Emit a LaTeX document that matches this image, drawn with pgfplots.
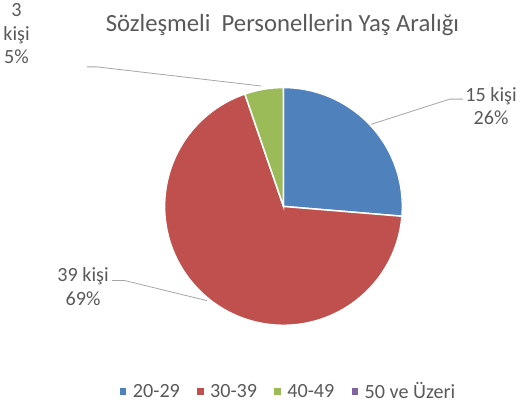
\documentclass[border=0pt]{standalone}
\usepackage{fontspec}
\setmainfont{Carlito}
\usepackage{pgfplots}
\pgfplotsset{compat=1.18}
\definecolor{cBlue}{HTML}{4F81BD}
\definecolor{cRed}{HTML}{C0504D}
\definecolor{cGreen}{HTML}{9BBB59}
\definecolor{cPurple}{HTML}{8064A2}
\definecolor{txt}{HTML}{595959}
\definecolor{lead}{HTML}{A6A6A6}
\begin{document}
\begin{tikzpicture}
% data
\def\va{15}\def\vb{39}\def\vc{3}\def\vd{0}
\pgfmathsetmacro\tot{\va+\vb+\vc+\vd}
\pgfmathsetmacro\aA{90}
\pgfmathsetmacro\aB{\aA-360*\va/\tot}
\pgfmathsetmacro\aC{\aB-360*\vb/\tot}
\pgfmathsetmacro\aD{\aC-360*\vc/\tot}
\def\cx{285}\def\cy{194.5}\def\R{118}
\begin{axis}[
  width=520pt, height=403pt, scale only axis,
  xmin=0, xmax=520, ymin=0, ymax=403,
  hide axis, clip=false,
  legend style={draw=none, fill=none, at={(axis cs:289,11)}, anchor=center,
    legend columns=-1, font=\fontsize{20}{24}\selectfont\color{txt},
    nodes={inner xsep=0pt},
    /tikz/every odd column/.append style={column sep=0pt},
    /tikz/every even column/.append style={column sep=17pt},
    legend cell align=left},
  legend image code/.code={\fill[#1] (0pt,-2.8pt) rectangle (5.6pt,2.8pt);},
]
\addlegendimage{cBlue}\addlegendentry{\hspace{7pt}20-29}
\addlegendimage{cRed}\addlegendentry{\hspace{7pt}30-39}
\addlegendimage{cGreen}\addlegendentry{\hspace{7pt}40-49}
\addlegendimage{cPurple}\addlegendentry{\hspace{7pt}50 ve Üzeri}
% slices
\fill[cBlue, draw=white, line width=1.5pt] (axis cs:\cx,\cy) -- ++(\aA:\R pt) arc[start angle=\aA, end angle=\aB, radius=\R pt] -- cycle;
\fill[cRed, draw=white, line width=1.5pt] (axis cs:\cx,\cy) -- ++(\aB:\R pt) arc[start angle=\aB, end angle=\aC, radius=\R pt] -- cycle;
\fill[cGreen, draw=white, line width=1.5pt] (axis cs:\cx,\cy) -- ++(\aC:\R pt) arc[start angle=\aC, end angle=\aD, radius=\R pt] -- cycle;
% leader lines
\draw[lead, line width=0.8pt] (axis cs:372,276) -- (axis cs:450,301) -- (axis cs:463,301);
\draw[lead, line width=0.8pt] (axis cs:115,121) -- (axis cs:127,121) -- (axis cs:209,101);
\draw[lead, line width=0.8pt] (axis cs:90,333) -- (axis cs:100,333) -- (axis cs:263,314);
% labels
\node[font=\fontsize{20}{23.5}\selectfont, text=txt, align=center, anchor=center] at (axis cs:491,294) {15 kişi\\26\%};
\node[font=\fontsize{20}{23.5}\selectfont, text=txt, align=center, anchor=center] at (axis cs:86,115) {39 kişi\\69\%};
\node[font=\fontsize{20}{23.5}\selectfont, text=txt, align=center, anchor=center] at (axis cs:20,366) {3\\kişi\\5\%};
% title
\node[font=\fontsize{24.5}{28}\selectfont, text=txt, anchor=center] at (axis cs:284,375) {Sözleşmeli\ \ Personellerin Yaş Aralığı};
\end{axis}
\end{tikzpicture}
\end{document}
